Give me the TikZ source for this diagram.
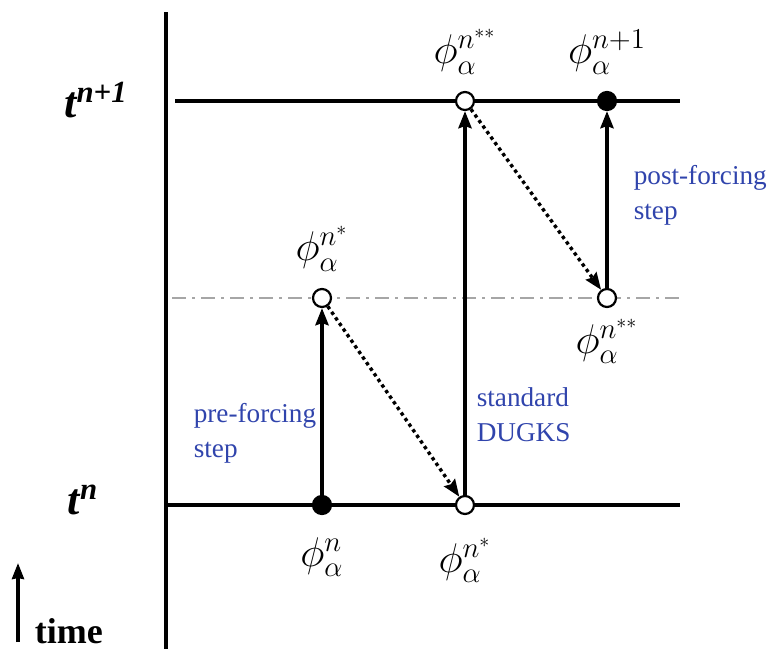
\documentclass[tikz,border=0pt]{standalone}
\usepackage{fontspec}
\setmainfont{Liberation Serif}
\usetikzlibrary{positioning, arrows.meta}
\definecolor{stepblue}{RGB}{48,68,172}
\tikzset{every picture/.append style={thick}}

\begin{document}
\begin{tikzpicture}[x=0.5pt, y=-0.5pt,
  opendot/.style={circle, draw, fill=white, line width=1.1pt, inner sep=0pt, minimum size=9pt},
  fulldot/.style={opendot, fill=black},
  timeline/.style={line width=2pt},
  steparrow/.style={line width=2pt, -{Stealth[length=8.5pt, width=6.5pt, inset=1pt]}},
  dotarrow/.style={line width=1.7pt, dash pattern=on 1.7pt off 1.7pt, -{Stealth[length=8.5pt, width=6.5pt, inset=1pt]}},
  steplabel/.style={text=stepblue, font=\fontsize{13.6}{17.5}\selectfont, align=left, anchor=west, inner sep=0pt},
  philabel/.style={font=\fontsize{20}{23}\selectfont, inner sep=1pt}]
  \useasboundingbox (0,0) rectangle (769,649);

  % Time axis
  \coordinate (axisT) at (166,12);
  \coordinate (axisB) at (166,649);
  \draw[line width=2.4pt] (axisT) -- (axisB);

  % Time levels
  \coordinate (topL) at (175,101);
  \coordinate (topR) at (680,101);
  \coordinate (midL) at (172,298);
  \coordinate (midR) at (680,298);
  \coordinate (botL) at (166,505);
  \coordinate (botR) at (680,505);
  \draw[timeline] (topL) -- (topR);
  \draw[timeline] (botL) -- (botR);
  \draw[line width=1pt, gray!70, dash pattern=on 7pt off 3pt on 1.5pt off 3pt] (midL) -- (midR);

  \node[font=\fontsize{22}{26}\selectfont\bfseries\itshape] (tnp) at (96,100) {t\textsuperscript{n+1}};
  \node[font=\fontsize{22}{26}\selectfont\bfseries\itshape] (tn) at (83,500) {t\textsuperscript{n}};

  % States
  \node[fulldot] (pn) at (322,505) {};
  \node[opendot] (pnsB) at (465,505) {};
  \node[opendot] (pns) at (322,298) {};
  \node[opendot] (pnss) at (465,101) {};
  \node[fulldot] (pnp) at (607,101) {};
  \node[opendot] (pnssB) at (607,298) {};

  \node[philabel, above=7pt of pns] (lpns) {$\phi_\alpha^{n^{*}}$};
  \node[philabel, above=7pt of pnss] (lpnss) {$\phi_\alpha^{n^{**}}$};
  \node[philabel, above=7pt of pnp] (lpnp) {$\phi_\alpha^{n+1}$};
  \node[philabel, below=4pt of pnssB] (lpnssB) {$\phi_\alpha^{n^{**}}$};
  \node[philabel, below=10pt of pn] (lpn) {$\phi_\alpha^{n}$};
  \node[philabel, below=10pt of pnsB] (lpnsB) {$\phi_\alpha^{n^{*}}$};

  % Steps
  \draw[steparrow] (pn) -- (pns);
  \draw[steparrow] (pnsB) -- (pnss);
  \draw[steparrow] (pnssB) -- (pnp);
  \draw[dotarrow] (pns) -- (pnsB);
  \draw[dotarrow] (pnss) -- (pnssB);

  \node[steplabel] (lpre) at (193,433) {pre-forcing\\step};
  \node[steplabel] (lstd) at (476,415) {standard\\DUGKS};
  \node[steplabel] (lpost) at (633,195) {post-forcing\\step};

  % Time direction
  \coordinate (timeS) at (18,642);
  \coordinate (timeE) at (18,563);
  \draw[line width=1.6pt, -{Stealth[length=8pt, width=6pt, inset=0.5pt]}] (timeS) -- (timeE);
  \node[font=\fontsize{18}{20}\selectfont\bfseries, anchor=base west, inner sep=0pt] (ltime) at (34,643) {time};
\end{tikzpicture}
\end{document}
